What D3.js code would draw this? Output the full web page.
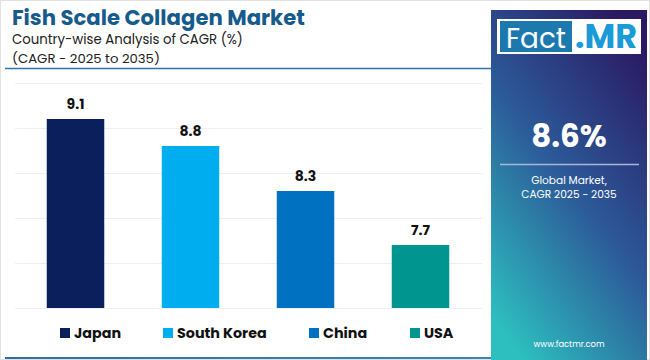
<!DOCTYPE html>
<html><head><meta charset="utf-8">
<script src="https://cdn.jsdelivr.net/npm/d3@7"></script>
<style>html,body{margin:0;padding:0;background:#fff;}svg{display:block;}</style>
</head><body>
<svg id="c" width="650" height="360"></svg>
<script>
const categories = ["Japan", "South Korea", "China", "USA"];
const values = [9.1, 8.8, 8.3, 7.7];
const colors = ["#0a1f5c", "#00aeef", "#0070c0", "#00968f"];
const gridTicks = [7, 7.5, 8, 8.5, 9, 9.5];
const titleText = "Fish Scale Collagen Market";
const subtitle1 = "Country-wise Analysis of CAGR (%)";
const subtitle2 = "(CAGR - 2025 to 2035)";
const globalValue = "8.6%";
const globalLabel = ["Global Market,", "CAGR 2025 - 2035"];
const website = "www.factmr.com";

const svg = d3.select("#c");
const FONT = "Poppins, Inter, 'Noto Sans', sans-serif";

function fit(sel, w) {
  const n = sel.node(); const cur = n.getComputedTextLength();
  const fs = parseFloat(sel.attr("font-size"));
  sel.attr("font-size", (fs * w / cur).toFixed(2));
}

// outer border
svg.append("rect").attr("x",0.5).attr("y",0.5).attr("width",649).attr("height",359)
  .attr("fill","#fff").attr("stroke","#e2e2e2");

// header
const t = svg.append("text").attr("x",12).attr("y",25).attr("font-family",FONT)
  .attr("font-weight",700).attr("font-size",22).attr("fill","#175a8c").text(titleText);
fit(t, 293);
const s1 = svg.append("text").attr("x",12).attr("y",44).attr("font-family",FONT)
  .attr("font-size",14.5).attr("fill","#222").text(subtitle1);
fit(s1, 231);
const s2 = svg.append("text").attr("x",12).attr("y",63).attr("font-family",FONT)
  .attr("font-size",14.5).attr("fill","#222").text(subtitle2);
fit(s2, 148);
svg.append("line").attr("x1",5).attr("x2",491).attr("y1",68.5).attr("y2",68.5)
  .attr("stroke","#2f74a8").attr("stroke-width",1.5);

// scales
const x = d3.scaleBand().domain(categories).range([18, 478]).paddingInner(0.5).paddingOuter(0.25);
const y = d3.scaleLinear().domain([7, 9.5]).range([308, 83]);

// grid
svg.append("g").selectAll("line").data(gridTicks).join("line")
  .attr("x1",15).attr("x2",482).attr("y1",d=>y(d)+0.5).attr("y2",d=>y(d)+0.5)
  .attr("stroke","#eceff3").attr("stroke-width",1);

// bars
const data = categories.map((c,i)=>({c, v: values[i], col: colors[i]}));
svg.append("g").selectAll("rect").data(data).join("rect")
  .attr("x",d=>x(d.c)).attr("width",x.bandwidth())
  .attr("y",d=>y(d.v)).attr("height",d=>y(7)-y(d.v))
  .attr("fill",d=>d.col);
svg.append("g").selectAll("text").data(data).join("text")
  .attr("x",d=>x(d.c)+x.bandwidth()/2).attr("y",d=>y(d.v)-10)
  .attr("text-anchor","middle").attr("font-family",FONT).attr("font-weight",700)
  .attr("font-size",14).attr("fill","#111").text(d=>d.v.toFixed(1));

// legend
const legX = [60, 163, 309, 410];
const lg = svg.append("g").selectAll("g").data(data).join("g")
  .attr("transform",(d,i)=>`translate(${legX[i]},328)`);
lg.append("rect").attr("width",10).attr("height",10).attr("fill",d=>d.col);
lg.append("text").attr("x",14).attr("y",9.5).attr("font-family",FONT).attr("font-weight",700)
  .attr("font-size",14.3).attr("fill","#111").text(d=>d.c);

// bottom line
const defs = svg.append("defs");
const bg = defs.append("linearGradient").attr("id","bl");
bg.append("stop").attr("offset","0").attr("stop-color","#2f6fa6");
bg.append("stop").attr("offset","1").attr("stop-color","#3a86b8");
svg.append("rect").attr("x",5).attr("y",357).attr("width",486).attr("height",2).attr("fill","url(#bl)");

// right panel
const pg = defs.append("linearGradient").attr("id","pg")
  .attr("x1","0.8").attr("y1","0").attr("x2","0.2").attr("y2","1");
pg.append("stop").attr("offset","0").attr("stop-color","#2a1963");
pg.append("stop").attr("offset","0.5").attr("stop-color","#2c5a98");
pg.append("stop").attr("offset","1").attr("stop-color","#2dbfc0");
svg.append("rect").attr("x",491).attr("y",10).attr("width",156).attr("height",350).attr("fill","url(#pg)");

// logo
svg.append("rect").attr("x",497).attr("y",19).attr("width",144).attr("height",35).attr("fill","#fff");
svg.append("rect").attr("x",500).attr("y",21).attr("width",72).attr("height",31).attr("fill","#1b79ad");
const f1 = svg.append("text").attr("x",506).attr("y",48).attr("font-family",FONT)
  .attr("font-size",30).attr("fill","#fff").text("Fact");
fit(f1, 60);
const f2 = svg.append("text").attr("x",575).attr("y",48).attr("font-family",FONT).attr("font-weight",700)
  .attr("font-size",30).attr("fill","#1a9ad6").text(".MR");
fit(f2, 62);

svg.append("text").attr("x",569).attr("y",147).attr("text-anchor","middle")
  .attr("font-family",FONT).attr("font-weight",700).attr("font-size",31).attr("fill","#fff").text(globalValue);
svg.append("line").attr("x1",500).attr("x2",639).attr("y1",164.5).attr("y2",164.5)
  .attr("stroke","#a8b6dc").attr("stroke-width",1.5);
const gl = svg.append("g").selectAll("text").data(globalLabel).join("text")
  .attr("x",569).attr("y",(d,i)=>184+i*14).attr("text-anchor","middle")
  .attr("font-family",FONT).attr("font-size",10.6).attr("fill","#fff").text(d=>d);
const w = svg.append("text").attr("x",569).attr("y",347).attr("text-anchor","middle")
  .attr("font-family",FONT).attr("font-size",10).attr("fill","#fff").text(website);
fit(w, 71);
</script>
</body></html>
